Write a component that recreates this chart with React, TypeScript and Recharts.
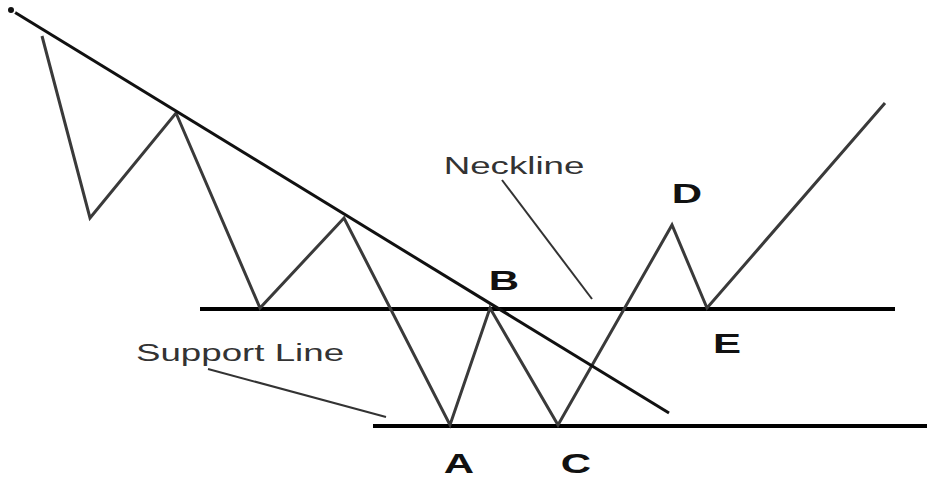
import { ComposedChart, Line, Scatter, XAxis, YAxis, ReferenceLine } from 'recharts'

// price path: time vs price (price grows upward)
const pricePath = [
  { t: 42, p: 443 },
  { t: 90, p: 261 },
  { t: 176, p: 366 },
  { t: 260, p: 171 },
  { t: 344, p: 261 },
  { t: 450, p: 54 },
  { t: 490, p: 171 },
  { t: 558, p: 54 },
  { t: 672, p: 254 },
  { t: 707, p: 171 },
  { t: 885, p: 376 },
]

const trendLine = [
  { t: 11, p: 469 },
  { t: 669, p: 66 },
]

const necklineLevel = 170
const necklineSpan = [200, 895]
const supportLevel = 53
const supportSpan = [373, 927]

const necklinePointer = [
  { t: 502, p: 299 },
  { t: 592, p: 180 },
]
const supportPointer = [
  { t: 208, p: 110 },
  { t: 386, p: 62 },
]

const letterLabels = [
  { t: 504, p: 189, text: 'B' },
  { t: 687, p: 276, text: 'D' },
  { t: 727, p: 126, text: 'E' },
  { t: 459, p: 6, text: 'A' },
  { t: 576, p: 6, text: 'C' },
]

const captionLabels = [
  { t: 514, p: 305, text: 'Neckline' },
  { t: 240, p: 118, text: 'Support Line' },
]

const W = 927
const H = 479
const FONT = '"Liberation Sans", Arial, sans-serif'

const LetterShape = (props: any) => {
  const { cx, cy, payload } = props
  return (
    <text
      transform={`translate(${cx},${cy}) scale(1.5,1)`}
      textAnchor="middle"
      fontFamily={FONT}
      fontWeight="bold"
      fontSize={28}
      fill="#111"
    >
      {payload.text}
    </text>
  )
}

const CaptionShape = (props: any) => {
  const { cx, cy, payload } = props
  return (
    <text
      transform={`translate(${cx},${cy}) scale(1.53,1)`}
      textAnchor="middle"
      fontFamily={FONT}
      fontSize={24}
      fill="#333"
    >
      {payload.text}
    </text>
  )
}

export default function App() {
  return (
    <div style={{ position: 'absolute', left: 0, top: 0, width: W, height: H, background: '#fff' }}>
      <ComposedChart width={W} height={H} margin={{ top: 0, right: 0, bottom: 0, left: 0 }}>
        <XAxis type="number" dataKey="t" domain={[0, W]} hide allowDataOverflow />
        <YAxis type="number" dataKey="p" domain={[0, H]} hide allowDataOverflow />
        <ReferenceLine
          segment={[{ x: necklineSpan[0], y: necklineLevel }, { x: necklineSpan[1], y: necklineLevel }]}
          stroke="#000"
          strokeWidth={4}
        />
        <ReferenceLine
          segment={[{ x: supportSpan[0], y: supportLevel }, { x: supportSpan[1], y: supportLevel }]}
          stroke="#000"
          strokeWidth={4}
        />
        <Line data={pricePath} dataKey="p" type="linear" stroke="#3a3a3a" strokeWidth={3} dot={false} isAnimationActive={false} strokeLinejoin="miter" />
        <Line data={trendLine} dataKey="p" type="linear" stroke="#111" strokeWidth={3} dot={false} isAnimationActive={false} />
        <Line data={necklinePointer} dataKey="p" type="linear" stroke="#333" strokeWidth={2} dot={false} isAnimationActive={false} />
        <Line data={supportPointer} dataKey="p" type="linear" stroke="#333" strokeWidth={2} dot={false} isAnimationActive={false} />
        <Scatter data={letterLabels} dataKey="p" shape={LetterShape} isAnimationActive={false} />
        <Scatter data={captionLabels} dataKey="p" shape={CaptionShape} isAnimationActive={false} />
      </ComposedChart>
    </div>
  )
}
